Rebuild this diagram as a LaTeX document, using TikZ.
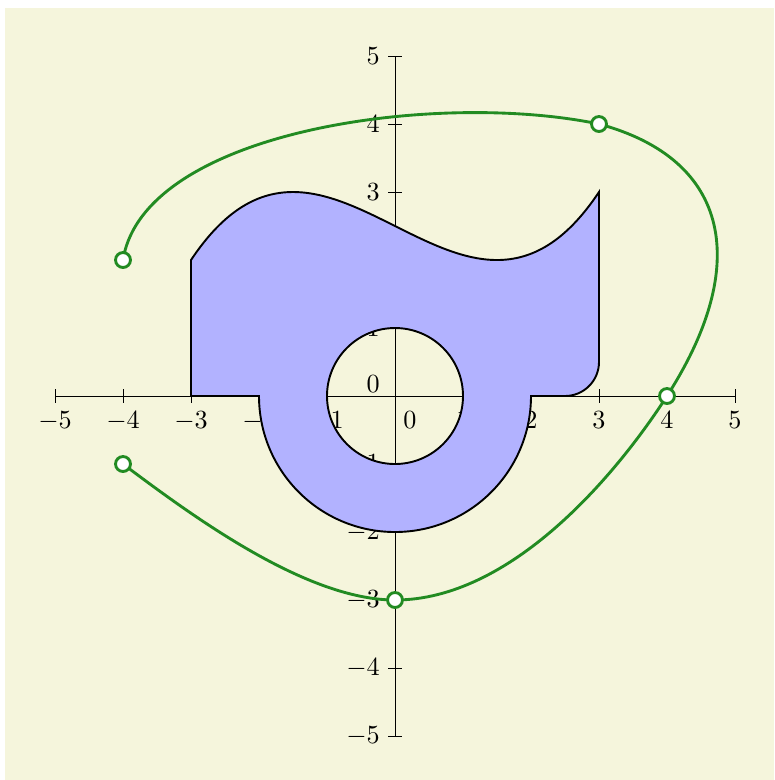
\documentclass[tikz,border=0pt]{standalone}
\definecolor{bgcream}{RGB}{245,245,220}
\definecolor{fillblue}{RGB}{178,178,255}
\definecolor{curvegreen}{RGB}{34,139,34}
\begin{document}
\begin{tikzpicture}[
  axisline/.style={line width=0.4pt},
  ticklabel/.style={font=\fontsize{11}{13}\selectfont, inner sep=3.33pt},
  shapeline/.style={draw=black, line width=0.8pt, fill=fillblue, even odd rule},
  greencurve/.style={draw=curvegreen, line width=1.2pt},
  knot/.style={circle, draw=curvegreen, fill=white, line width=1.2pt, minimum size=0.22cm, inner sep=0pt}
]
\useasboundingbox (-5.809,-5.647) rectangle (5.574,5.824);
\fill[bgcream] (-5.735,-5.647) rectangle (5.574,5.706);
% axes
\coordinate (xa) at (-5,0);
\coordinate (xb) at (5,0);
\coordinate (ya) at (0,-5);
\coordinate (yb) at (0,5);
\draw[axisline] (xa) -- (xb);
\draw[axisline] (ya) -- (yb);
\foreach \t in {-5,...,5} {
  \draw[axisline] (\t,0.1) -- (\t,-0.1);
  \draw[axisline] (0.1,\t) -- (-0.1,\t);
}
\foreach \t in {-5,-4,-3,-2,-1,1,2,3,4,5} {
  \node[ticklabel, anchor=north] (xl\t) at (\t,-0.1) {$\t$};
  \node[ticklabel, anchor=east] (yl\t) at (-0.1,\t) {$\t$};
}
\node[ticklabel, anchor=north west] (xl0) at (0,-0.1) {$0$};
\node[ticklabel] (yl0) at (-0.32,0.18) {$0$};
% filled shape
\path[shapeline] (-3,0) -- (-3,2) .. controls (-1,5) and (1,0) .. (3,3)
  -- (3,0.5) arc[start angle=0,end angle=-90,radius=0.5]
  -- (2,0) arc[start angle=0,end angle=-180,radius=2] -- cycle
  (0,0) circle[radius=1];
% green curve
\coordinate (p1) at (-4,2);
\coordinate (p2) at (3,4);
\coordinate (p3) at (4,0);
\coordinate (p4) at (0,-3);
\coordinate (p5) at (-4,-1);
\draw[greencurve] (p1) .. controls (-3.7,3.9) and (0.6,4.5) .. (p2)
  .. controls (4.93,3.48) and (5.24,1.93) .. (p3)
  .. controls (3.24,-1.18) and (1.7,-3) .. (p4)
  .. controls (-1.3,-3) and (-2.96,-1.78) .. (p5);
\foreach \i in {1,...,5} \node[knot] (k\i) at (p\i) {};
\end{tikzpicture}
\end{document}
